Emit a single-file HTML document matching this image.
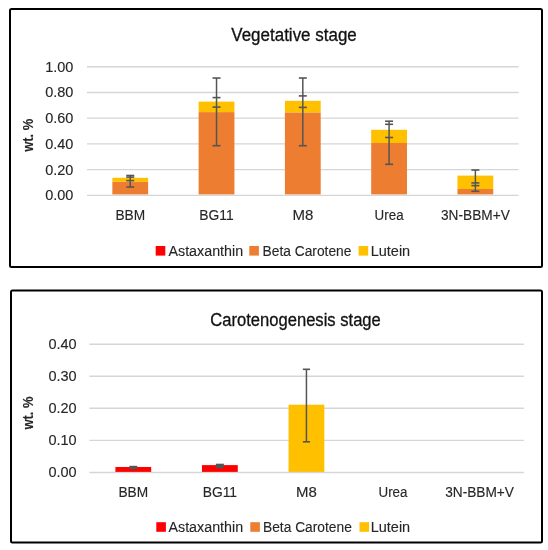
<!DOCTYPE html>
<html><head><meta charset="utf-8"><title>Chart</title>
<style>html,body{margin:0;padding:0;background:#fff;width:548px;height:550px;overflow:hidden}
svg text{font-family:"Liberation Sans", sans-serif;stroke:#262626;stroke-width:0.12px}</style></head>
<body>
<svg width="548" height="550" viewBox="0 0 548 550" style="display:block;will-change:transform">
<rect width="548" height="550" fill="#fff"/>
<rect x="10" y="9" width="532" height="258" rx="1.5" fill="#fff" stroke="#000" stroke-width="2"/>
<text x="231.3" y="40.7" font-size="18" text-anchor="start" font-weight="normal" fill="#111" textLength="125.5" lengthAdjust="spacingAndGlyphs" style="stroke:#111;stroke-width:0.3px">Vegetative stage</text>
<line x1="87.0" y1="195.35" x2="518.6" y2="195.35" stroke="#d6d6d6" stroke-width="1.4"/>
<line x1="87.0" y1="169.62" x2="518.6" y2="169.62" stroke="#d6d6d6" stroke-width="1.4"/>
<line x1="87.0" y1="143.89" x2="518.6" y2="143.89" stroke="#d6d6d6" stroke-width="1.4"/>
<line x1="87.0" y1="118.16" x2="518.6" y2="118.16" stroke="#d6d6d6" stroke-width="1.4"/>
<line x1="87.0" y1="92.43" x2="518.6" y2="92.43" stroke="#d6d6d6" stroke-width="1.4"/>
<line x1="87.0" y1="66.70" x2="518.6" y2="66.70" stroke="#d6d6d6" stroke-width="1.4"/>
<text x="73.4" y="200.35" font-size="14" text-anchor="end" font-weight="normal" fill="#262626" textLength="28.2" lengthAdjust="spacingAndGlyphs">0.00</text>
<text x="73.4" y="174.62" font-size="14" text-anchor="end" font-weight="normal" fill="#262626" textLength="28.2" lengthAdjust="spacingAndGlyphs">0.20</text>
<text x="73.4" y="148.89" font-size="14" text-anchor="end" font-weight="normal" fill="#262626" textLength="28.2" lengthAdjust="spacingAndGlyphs">0.40</text>
<text x="73.4" y="123.16" font-size="14" text-anchor="end" font-weight="normal" fill="#262626" textLength="28.2" lengthAdjust="spacingAndGlyphs">0.60</text>
<text x="73.4" y="97.43" font-size="14" text-anchor="end" font-weight="normal" fill="#262626" textLength="28.2" lengthAdjust="spacingAndGlyphs">0.80</text>
<text x="73.4" y="71.70" font-size="14" text-anchor="end" font-weight="normal" fill="#262626" textLength="28.2" lengthAdjust="spacingAndGlyphs">1.00</text>
<rect x="112.35" y="181.80" width="35.80" height="12.60" fill="#ed7d31"/>
<rect x="112.35" y="177.80" width="35.80" height="4.00" fill="#ffc000"/>
<rect x="198.63" y="112.10" width="35.80" height="82.30" fill="#ed7d31"/>
<rect x="198.63" y="101.60" width="35.80" height="10.50" fill="#ffc000"/>
<rect x="284.91" y="112.40" width="35.80" height="82.00" fill="#ed7d31"/>
<rect x="284.91" y="100.80" width="35.80" height="11.60" fill="#ffc000"/>
<rect x="371.19" y="143.00" width="35.80" height="51.40" fill="#ed7d31"/>
<rect x="371.19" y="129.80" width="35.80" height="13.20" fill="#ffc000"/>
<rect x="457.47" y="189.00" width="35.80" height="5.40" fill="#ed7d31"/>
<rect x="457.47" y="175.60" width="35.80" height="13.40" fill="#ffc000"/>
<line x1="130.25" y1="175.50" x2="130.25" y2="187.00" stroke="#555555" stroke-width="1.5"/>
<line x1="126.25" y1="175.50" x2="134.25" y2="175.50" stroke="#555555" stroke-width="1.6"/>
<line x1="126.25" y1="177.10" x2="134.25" y2="177.10" stroke="#555555" stroke-width="1.6"/>
<line x1="126.25" y1="180.60" x2="134.25" y2="180.60" stroke="#555555" stroke-width="1.6"/>
<line x1="126.25" y1="187.00" x2="134.25" y2="187.00" stroke="#555555" stroke-width="1.6"/>
<line x1="216.53" y1="78.05" x2="216.53" y2="145.70" stroke="#555555" stroke-width="1.5"/>
<line x1="212.53" y1="78.05" x2="220.53" y2="78.05" stroke="#555555" stroke-width="1.6"/>
<line x1="212.53" y1="97.60" x2="220.53" y2="97.60" stroke="#555555" stroke-width="1.6"/>
<line x1="212.53" y1="107.10" x2="220.53" y2="107.10" stroke="#555555" stroke-width="1.6"/>
<line x1="212.53" y1="145.70" x2="220.53" y2="145.70" stroke="#555555" stroke-width="1.6"/>
<line x1="302.81" y1="78.00" x2="302.81" y2="145.70" stroke="#555555" stroke-width="1.5"/>
<line x1="298.81" y1="78.00" x2="306.81" y2="78.00" stroke="#555555" stroke-width="1.6"/>
<line x1="298.81" y1="95.90" x2="306.81" y2="95.90" stroke="#555555" stroke-width="1.6"/>
<line x1="298.81" y1="107.40" x2="306.81" y2="107.40" stroke="#555555" stroke-width="1.6"/>
<line x1="298.81" y1="145.70" x2="306.81" y2="145.70" stroke="#555555" stroke-width="1.6"/>
<line x1="389.09" y1="121.20" x2="389.09" y2="164.30" stroke="#555555" stroke-width="1.5"/>
<line x1="385.09" y1="121.20" x2="393.09" y2="121.20" stroke="#555555" stroke-width="1.6"/>
<line x1="385.09" y1="124.30" x2="393.09" y2="124.30" stroke="#555555" stroke-width="1.6"/>
<line x1="385.09" y1="137.50" x2="393.09" y2="137.50" stroke="#555555" stroke-width="1.6"/>
<line x1="385.09" y1="164.30" x2="393.09" y2="164.30" stroke="#555555" stroke-width="1.6"/>
<line x1="475.37" y1="170.00" x2="475.37" y2="191.30" stroke="#555555" stroke-width="1.5"/>
<line x1="471.37" y1="170.00" x2="479.37" y2="170.00" stroke="#555555" stroke-width="1.6"/>
<line x1="471.37" y1="182.90" x2="479.37" y2="182.90" stroke="#555555" stroke-width="1.6"/>
<line x1="471.37" y1="185.60" x2="479.37" y2="185.60" stroke="#555555" stroke-width="1.6"/>
<line x1="471.37" y1="191.30" x2="479.37" y2="191.30" stroke="#555555" stroke-width="1.6"/>
<text x="130.25" y="219.5" font-size="14" text-anchor="middle" font-weight="normal" fill="#262626" textLength="29.7" lengthAdjust="spacingAndGlyphs">BBM</text>
<text x="216.53" y="219.5" font-size="14" text-anchor="middle" font-weight="normal" fill="#262626" textLength="34.4" lengthAdjust="spacingAndGlyphs">BG11</text>
<text x="302.81" y="219.5" font-size="14" text-anchor="middle" font-weight="normal" fill="#262626" textLength="20.8" lengthAdjust="spacingAndGlyphs">M8</text>
<text x="389.09" y="219.5" font-size="14" text-anchor="middle" font-weight="normal" fill="#262626" textLength="29.0" lengthAdjust="spacingAndGlyphs">Urea</text>
<text x="475.37" y="219.5" font-size="14" text-anchor="middle" font-weight="normal" fill="#262626" textLength="68.8" lengthAdjust="spacingAndGlyphs">3N-BBM+V</text>
<text transform="translate(32.5,135.3) rotate(-90)" font-size="14" font-weight="bold" text-anchor="middle" fill="#262626" textLength="33" lengthAdjust="spacingAndGlyphs">wt. %</text>
<rect x="155.7" y="246" width="9.6" height="9.6" fill="#ff0000"/>
<text x="168.5" y="255.5" font-size="14" text-anchor="start" font-weight="normal" fill="#262626" textLength="74.6" lengthAdjust="spacingAndGlyphs">Astaxanthin</text>
<rect x="249.3" y="246" width="9.6" height="9.6" fill="#ed7d31"/>
<text x="262.6" y="255.5" font-size="14" text-anchor="start" font-weight="normal" fill="#262626" textLength="88.8" lengthAdjust="spacingAndGlyphs">Beta Carotene</text>
<rect x="358.6" y="246" width="9.6" height="9.6" fill="#ffc000"/>
<text x="370.7" y="255.5" font-size="14" text-anchor="start" font-weight="normal" fill="#262626" textLength="39.5" lengthAdjust="spacingAndGlyphs">Lutein</text>
<rect x="11" y="290.5" width="531" height="252" rx="1.5" fill="#fff" stroke="#000" stroke-width="2"/>
<text x="210.3" y="325.8" font-size="18" text-anchor="start" font-weight="normal" fill="#111" textLength="170.5" lengthAdjust="spacingAndGlyphs" style="stroke:#111;stroke-width:0.3px">Carotenogenesis stage</text>
<line x1="89.4" y1="472.45" x2="523.8" y2="472.45" stroke="#d6d6d6" stroke-width="1.4"/>
<line x1="89.4" y1="440.39" x2="523.8" y2="440.39" stroke="#d6d6d6" stroke-width="1.4"/>
<line x1="89.4" y1="408.32" x2="523.8" y2="408.32" stroke="#d6d6d6" stroke-width="1.4"/>
<line x1="89.4" y1="376.26" x2="523.8" y2="376.26" stroke="#d6d6d6" stroke-width="1.4"/>
<line x1="89.4" y1="344.20" x2="523.8" y2="344.20" stroke="#d6d6d6" stroke-width="1.4"/>
<text x="76.6" y="477.15" font-size="14" text-anchor="end" font-weight="normal" fill="#262626" textLength="28.2" lengthAdjust="spacingAndGlyphs">0.00</text>
<text x="76.6" y="445.09" font-size="14" text-anchor="end" font-weight="normal" fill="#262626" textLength="28.2" lengthAdjust="spacingAndGlyphs">0.10</text>
<text x="76.6" y="413.02" font-size="14" text-anchor="end" font-weight="normal" fill="#262626" textLength="28.2" lengthAdjust="spacingAndGlyphs">0.20</text>
<text x="76.6" y="380.96" font-size="14" text-anchor="end" font-weight="normal" fill="#262626" textLength="28.2" lengthAdjust="spacingAndGlyphs">0.30</text>
<text x="76.6" y="348.90" font-size="14" text-anchor="end" font-weight="normal" fill="#262626" textLength="28.2" lengthAdjust="spacingAndGlyphs">0.40</text>
<rect x="115.40" y="467.00" width="35.80" height="4.90" fill="#ff0000"/>
<rect x="201.97" y="465.10" width="35.80" height="6.80" fill="#ff0000"/>
<rect x="288.54" y="404.70" width="35.80" height="67.20" fill="#ffc000"/>
<rect x="129.30" y="465.80" width="8" height="3.40" fill="#555555"/>
<rect x="215.87" y="463.70" width="8" height="4.50" fill="#555555"/>
<line x1="306.44" y1="369.30" x2="306.44" y2="441.80" stroke="#555555" stroke-width="1.5"/>
<line x1="302.84" y1="369.30" x2="310.04" y2="369.30" stroke="#555555" stroke-width="1.6"/>
<line x1="302.84" y1="441.80" x2="310.04" y2="441.80" stroke="#555555" stroke-width="1.6"/>
<text x="133.30" y="497" font-size="14" text-anchor="middle" font-weight="normal" fill="#262626" textLength="29.7" lengthAdjust="spacingAndGlyphs">BBM</text>
<text x="219.87" y="497" font-size="14" text-anchor="middle" font-weight="normal" fill="#262626" textLength="34.4" lengthAdjust="spacingAndGlyphs">BG11</text>
<text x="306.44" y="497" font-size="14" text-anchor="middle" font-weight="normal" fill="#262626" textLength="20.8" lengthAdjust="spacingAndGlyphs">M8</text>
<text x="393.01" y="497" font-size="14" text-anchor="middle" font-weight="normal" fill="#262626" textLength="29.0" lengthAdjust="spacingAndGlyphs">Urea</text>
<text x="479.58" y="497" font-size="14" text-anchor="middle" font-weight="normal" fill="#262626" textLength="68.8" lengthAdjust="spacingAndGlyphs">3N-BBM+V</text>
<text transform="translate(33,413) rotate(-90)" font-size="14" font-weight="bold" text-anchor="middle" fill="#262626" textLength="33" lengthAdjust="spacingAndGlyphs">wt. %</text>
<rect x="156.3" y="522.2" width="9.6" height="9.6" fill="#ff0000"/>
<text x="168.5" y="531.7" font-size="14" text-anchor="start" font-weight="normal" fill="#262626" textLength="74.6" lengthAdjust="spacingAndGlyphs">Astaxanthin</text>
<rect x="250.3" y="522.2" width="9.6" height="9.6" fill="#ed7d31"/>
<text x="263.0" y="531.7" font-size="14" text-anchor="start" font-weight="normal" fill="#262626" textLength="88.8" lengthAdjust="spacingAndGlyphs">Beta Carotene</text>
<rect x="359.5" y="522.2" width="9.6" height="9.6" fill="#ffc000"/>
<text x="370.7" y="531.7" font-size="14" text-anchor="start" font-weight="normal" fill="#262626" textLength="39.5" lengthAdjust="spacingAndGlyphs">Lutein</text>
</svg>
</body></html>
